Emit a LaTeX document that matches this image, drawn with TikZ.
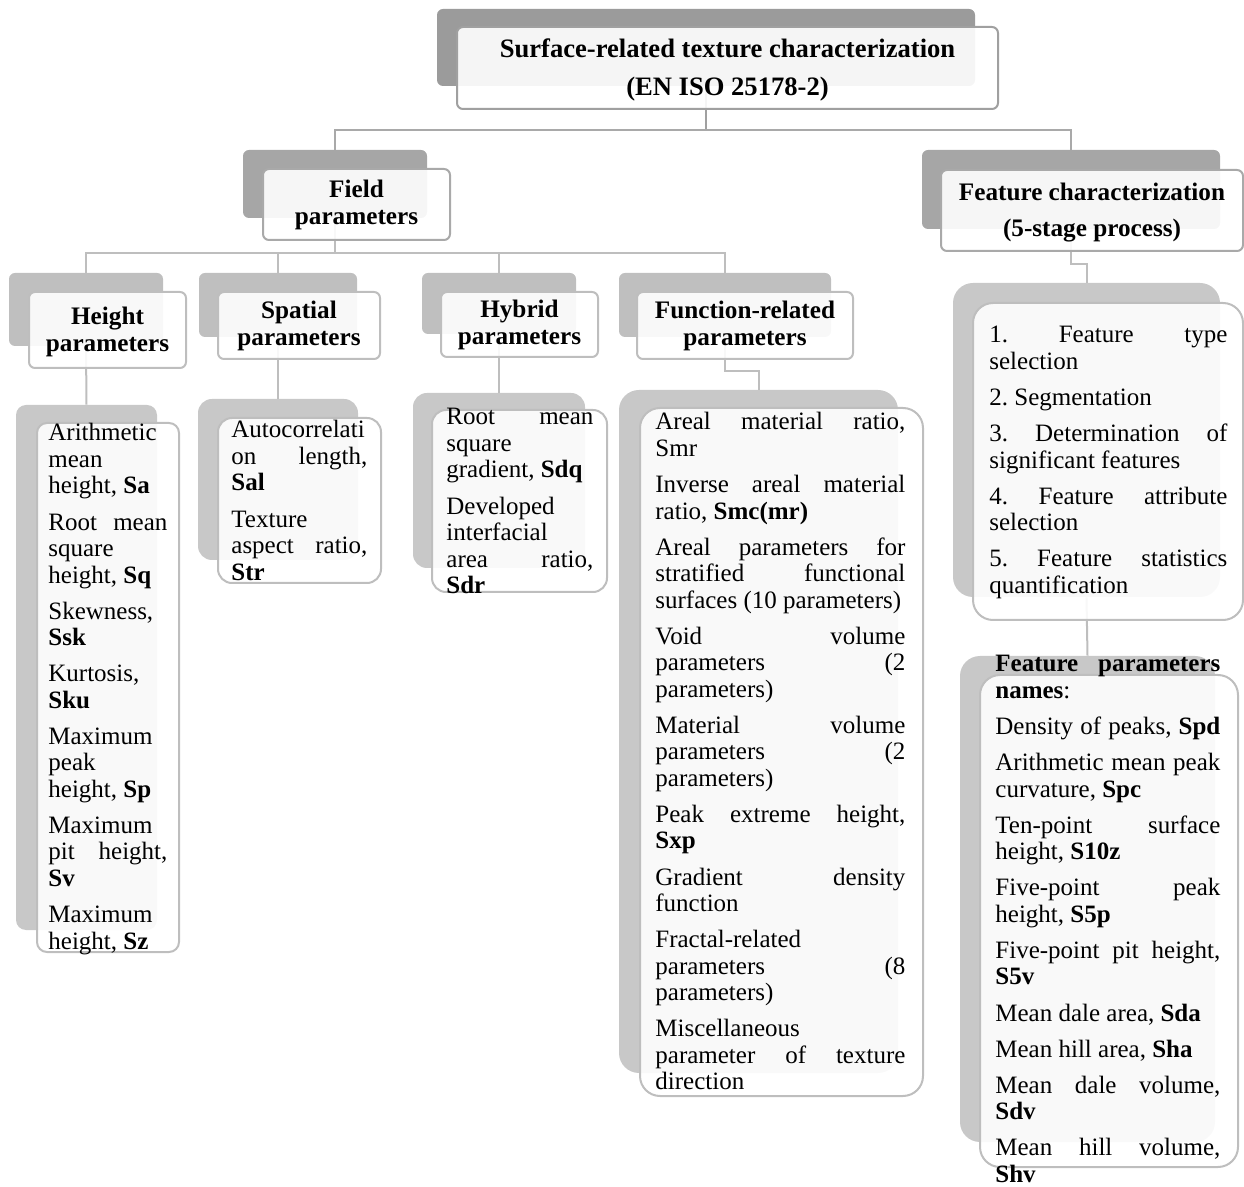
\documentclass[tikz,border=0pt]{standalone}
\usepackage{fontspec}
\setmainfont{Liberation Serif}
\usetikzlibrary{fit}
\definecolor{shadeA}{HTML}{9B9B9B}
\definecolor{shadeB}{HTML}{A6A6A6}
\definecolor{shadeC}{HTML}{BFBFBF}
\definecolor{shadeD}{HTML}{C8C8C8}
\definecolor{edgeA}{HTML}{A0A0A0}
\definecolor{edgeB}{HTML}{A9A9A9}
\definecolor{edgeC}{HTML}{BEBEBE}
\frenchspacing
\newcommand{\jl}[1]{\makebox[\linewidth][s]{\spaceskip=0pt #1}}
\tikzset{%
  backbox/.style  = {rectangle, inner sep=0pt, fill=#1},%
  frontbox/.style = {rectangle, inner sep=0pt, draw=#1, line width=1pt,%
                     fill=white, fill opacity=0.9},%
  link/.style     = {draw=#1, line width=1pt},%
  itemtext/.style = {anchor=base west, inner sep=0pt, text width=#1, align=justify,%
                     font=\fontsize{12.5}{13.25}\selectfont\frenchspacing},%
  headA/.style    = {inner sep=0pt, align=center, font=\fontsize{13.3}{19}\selectfont\bfseries},%
  headB/.style    = {inner sep=0pt, align=center, font=\fontsize{12.6}{13.5}\selectfont\bfseries},%
  headC/.style    = {inner sep=0pt, align=center, font=\fontsize{12.6}{18}\selectfont\bfseries}%
}
\begin{document}
\begin{tikzpicture}[x=0.5pt,y=-0.5pt]
	\useasboundingbox (0,0) rectangle (1244,1187);%
	\node[backbox=shadeA, rounded corners=3pt, fit={(437,9) (975,86)}] (topbk) {};%
	\node[backbox=shadeB, rounded corners=3pt, fit={(243,150) (427,218)}] (fieldbk) {};%
	\node[backbox=shadeB, rounded corners=3pt, fit={(922,150) (1220,229)}] (featbk) {};%
	\node[backbox=shadeC, rounded corners=3pt, fit={(9,273) (163,346)}] (heightbk) {};%
	\node[backbox=shadeC, rounded corners=3pt, fit={(199,273) (357,337)}] (spatbk) {};%
	\node[backbox=shadeC, rounded corners=3pt, fit={(422,273) (576,334)}] (hybbk) {};%
	\node[backbox=shadeC, rounded corners=3pt, fit={(619,273) (831,337)}] (funcbk) {};%
	\node[backbox=shadeD, rounded corners=5pt, fit={(16,405) (157,930)}] (heightlistbk) {};%
	\node[backbox=shadeD, rounded corners=7pt, fit={(198,399) (358,560)}] (spatlistbk) {};%
	\node[backbox=shadeD, rounded corners=7pt, fit={(413,393) (585,568)}] (hyblistbk) {};%
	\node[backbox=shadeD, rounded corners=10pt, fit={(619,390) (898,1073)}] (funclistbk) {};%
	\node[backbox=shadeD, rounded corners=10pt, fit={(953,283) (1220,597)}] (stagebk) {};%
	\node[backbox=shadeD, rounded corners=10pt, fit={(960,656) (1215,1142)}] (namesbk) {};%
	\draw[link=edgeA] (topbk.south) -- ++(0,44) coordinate (topbus);%
	\draw[link=edgeB] (topbus) -| (fieldbk.north);%
	\draw[link=edgeB] (topbus) -| (featbk.north);%
	\draw[link=edgeC] (fieldbk.south) -- ++(0,35) coordinate (fieldbus);%
	\foreach \kid in {heightbk,spatbk,hybbk,funcbk}%
		\draw[link=edgeC] (fieldbus) -| (\kid.north);%
	\draw[link=edgeC] (heightbk.south) -- (heightlistbk.north);%
	\draw[link=edgeC] (spatbk.south) -- (spatlistbk.north);%
	\draw[link=edgeC] (hybbk.south) -- (hyblistbk.north);%
	\draw[link=edgeC] (funcbk.south) -- ++(0,34) -| (funclistbk.north);%
	\draw[link=edgeC] (featbk.south) -- ++(0,35) -| (stagebk.north);%
	\draw[link=edgeC] (stagebk.south) -- (namesbk.north);%
	\node[frontbox=edgeA, rounded corners=3pt, fit={(457,27) (998,109)}] (top) {};%
	\node[frontbox=edgeB, rounded corners=3pt, fit={(263,169) (450,240)}] (field) {};%
	\node[frontbox=edgeB, rounded corners=3pt, fit={(941,170) (1243,251)}] (feat) {};%
	\node[frontbox=edgeC, rounded corners=3pt, fit={(29,292) (186,368)}] (height) {};%
	\node[frontbox=edgeC, rounded corners=3pt, fit={(218,292) (380,359)}] (spat) {};%
	\node[frontbox=edgeC, rounded corners=3pt, fit={(441,292) (598,357)}] (hyb) {};%
	\node[frontbox=edgeC, rounded corners=3pt, fit={(637,292) (853,359)}] (func) {};%
	\node[frontbox=edgeC, rounded corners=5pt, fit={(37,423) (179,952)}] (heightlist) {};%
	\node[frontbox=edgeC, rounded corners=7pt, fit={(218,418) (381,583)}] (spatlist) {};%
	\node[frontbox=edgeC, rounded corners=7pt, fit={(432,410) (607,592)}] (hyblist) {};%
	\node[frontbox=edgeC, rounded corners=10pt, fit={(640,408) (923,1096)}] (funclist) {};%
	\node[frontbox=edgeC, rounded corners=10pt, fit={(973,303) (1243,620)}] (stage) {};%
	\node[frontbox=edgeC, rounded corners=10pt, fit={(980,675) (1238,1167)}] (names) {};%
	\node[headA] (toptitle) at ([yshift=-1pt]top.center) {Surface-related texture characterization\\(EN ISO 25178-2)};%
	\node[headB] (fieldtitle) at (field.center) {Field\\parameters};%
	\node[headC] (feattitle) at ([yshift=-1pt]feat.center) {Feature characterization\\(5-stage process)};%
	\node[headB] (heighttitle) at ([yshift=-1pt]height.center) {Height\\parameters};%
	\node[headB] (spattitle) at (spat.center) {Spatial\\parameters};%
	\node[headB] (hybtitle) at (hyb.center) {Hybrid\\parameters};%
	\node[headB] (functitle) at (func.center) {Function-related\\parameters};%
	\node[itemtext=59.5pt] (heighttxt) at (48,441)%
		{Arithmetic\\ mean\\ height, \textbf{Sa}\\[4.8pt]%
		 \jl{Root mean}\\ square\\ height, \textbf{Sq}\\[4.8pt]%
		 Skewness,\\ \textbf{Ssk}\\[4.8pt]%
		 Kurtosis,\\ \textbf{Sku}\\[4.8pt]%
		 Maximum\\ peak\\ height, \textbf{Sp}\\[4.8pt]%
		 Maximum\\ \jl{pit height,}\\ \textbf{Sv}\\[4.8pt]%
		 Maximum\\ height, \textbf{Sz}};%
	\node[itemtext=68pt] (spattxt) at (231,438)%
		{Autocorrelati\\ \jl{on length,}\\ \textbf{Sal}\\[4.8pt]%
		 Texture\\ \jl{aspect ratio,}\\ \textbf{Str}};%
	\node[itemtext=73.5pt] (hybtxt) at (446,425)%
		{\jl{Root mean}\\ square\\ gradient, \textbf{Sdq}\\[4.8pt]%
		 Developed\\ interfacial\\ \jl{area ratio,}\\ \textbf{Sdr}};%
	\node[itemtext=125pt] (functxt) at (655,430)%
		{\jl{Areal material ratio,}\\ Smr\\[4.8pt]%
		 \jl{Inverse areal material}\\ ratio, \textbf{Smc(mr)}\\[4.8pt]%
		 \jl{Areal parameters for}\\ \jl{stratified functional}\\ surfaces (10 parameters)\\[4.8pt]%
		 \jl{Void volume}\\ \jl{parameters (2}\\ parameters)\\[4.8pt]%
		 \jl{Material volume}\\ \jl{parameters (2}\\ parameters)\\[4.8pt]%
		 \jl{Peak extreme height,}\\ \textbf{Sxp}\\[4.8pt]%
		 \jl{Gradient density}\\ function\\[4.8pt]%
		 Fractal-related\\ \jl{parameters (8}\\ parameters)\\[4.8pt]%
		 Miscellaneous\\ \jl{parameter of texture}\\ direction};%
	\node[itemtext=119pt] (stagetxt) at (989,343)%
		{\jl{1. Feature type}\\ selection\\[4.8pt]%
		 2. Segmentation\\[4.8pt]%
		 \jl{3. Determination of}\\ significant features\\[4.8pt]%
		 \jl{4. Feature attribute}\\ selection\\[4.8pt]%
		 \jl{5. Feature statistics}\\ quantification};%
	\node[itemtext=112.5pt] (namestxt) at (995,672)%
		{\jl{\textbf{Feature parameters}}\\ \textbf{names}:\\[4.8pt]%
		 \jl{Density of peaks, \textbf{Spd}}\\[4.8pt]%
		 \jl{Arithmetic mean peak}\\ curvature, \textbf{Spc}\\[4.8pt]%
		 \jl{Ten-point surface}\\ height, \textbf{S10z}\\[4.8pt]%
		 \jl{Five-point peak}\\ height, \textbf{S5p}\\[4.8pt]%
		 \jl{Five-point pit height,}\\ \textbf{S5v}\\[4.8pt]%
		 Mean dale area, \textbf{Sda}\\[4.8pt]%
		 Mean hill area, \textbf{Sha}\\[4.8pt]%
		 \jl{Mean dale volume,}\\ \textbf{Sdv}\\[4.8pt]%
		 \jl{Mean hill volume,}\\ \textbf{Shv}};%
\end{tikzpicture}
\end{document}
